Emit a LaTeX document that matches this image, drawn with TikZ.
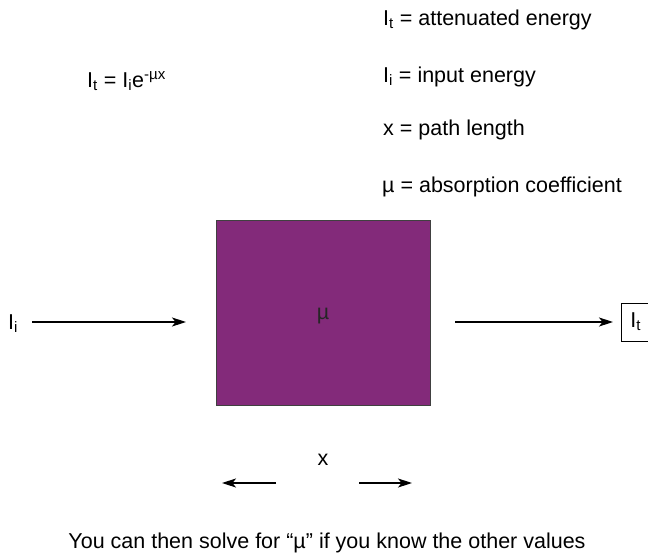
\documentclass[tikz,border=0pt]{standalone}
\usepackage{fontspec}
\setmainfont{Liberation Sans}
\usetikzlibrary{positioning,arrows.meta}
\definecolor{absorber}{HTML}{832A7A}
\tikzset{
  txt/.style     = {font=\fontsize{21.5}{25}\selectfont, inner sep=0pt, anchor=base west},
  slab/.style    = {draw=black!75, fill=absorber, line width=1pt},
  beam/.style    = {-{Stealth[length=14pt, width=9pt, inset=3.5pt]}, line width=1.1pt},
  outbox/.style  = {draw, line width=0.9pt, inner xsep=9pt, minimum height=38pt, font=\fontsize{21.5}{25}\selectfont},
}
\newcommand{\I}[1]{I\textsubscript{#1}}

\begin{document}
\begin{tikzpicture}[x=1pt,y=-1pt]
  \useasboundingbox (0,0) rectangle (648,554);

  % formula
  \node[txt] (law) at (87,87) {\I{t} = \I{i}e\textsuperscript{-\textmu x}};

  % legend
  \node[txt] (lt)  at (383,25)  {\I{t} = attenuated energy};
  \node[txt] (li)  at (383,82)  {\I{i} = input energy};
  \node[txt] (lx)  at (383,135) {x = path length};
  \node[txt] (lmu) at (382,192) {\textmu\ = absorption coefficient};

  % absorbing slab
  \draw[slab] (216,220) rectangle (430,405);
  \node[txt, anchor=base, text=black!85] (mu) at (323,319) {\textmu};

  % beam in and out
  \node[txt] (ii) at (8,329) {\I{i}};
  \coordinate (instart) at (32,322);
  \coordinate (inend) at (186,322);
  \coordinate (outstart) at (455,322);
  \node[outbox, anchor=west] (it) at (621,322) {\I{t}};
  \draw[beam] (instart) -- (inend);
  \draw[beam, shorten >=8pt] (outstart) -- (outstart -| it.west);

  % path length
  \node[txt, anchor=base] (x) at (323,465) {x};
  \coordinate (xlt) at (276,483);
  \coordinate (xl) at (222,483);
  \coordinate (xrt) at (359,483);
  \coordinate (xr) at (412,483);
  \draw[beam] (xlt) -- (xl);
  \draw[beam] (xrt) -- (xr);

  % note
  \node[txt, anchor=base] (note) at (327,548) {You can then solve for “\textmu” if you know the other values};
\end{tikzpicture}
\end{document}
